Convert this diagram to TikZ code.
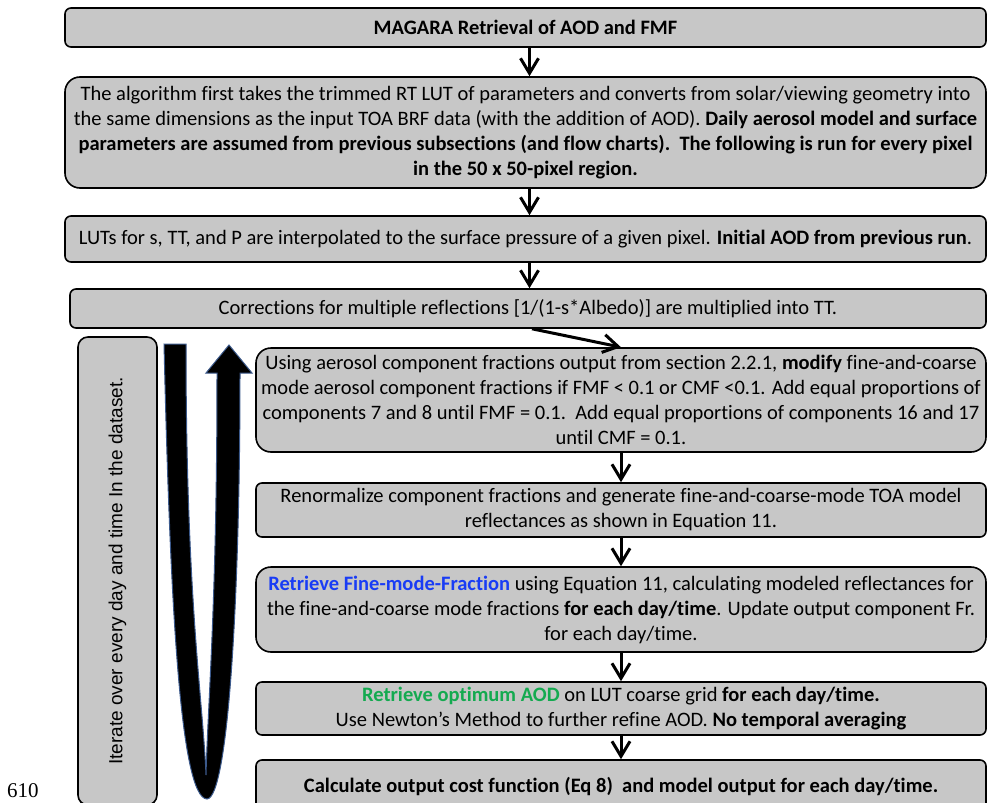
\documentclass[tikz,border=0pt]{standalone}
\usepackage{fontspec}
\setmainfont{Carlito}[Ligatures=NoCommon]
\newfontfamily\arialfont{Liberation Sans}
\newfontfamily\timesfont{Liberation Serif}
\usetikzlibrary{arrows.meta}
\definecolor{boxgray}{RGB}{199,199,199}
\definecolor{fmfblue}{RGB}{25,60,245}
\definecolor{aodgreen}{RGB}{20,170,80}
\definecolor{loopblue}{RGB}{60,90,140}

\begin{document}
\begin{tikzpicture}[x=1pt,y=-1pt,
    stage/.style={draw, fill=boxgray, line width=1.6pt, rounded corners=6pt, align=center, inner sep=0pt, font=\fontsize{20.5}{25}\selectfont},
    stagebig/.style={stage, rounded corners=15pt},
    flow/.style={line width=3pt, -{Straight Barb[length=15pt,width=18pt]}}]
            \useasboundingbox (0,0) rectangle (988,803);
            % main column
            \node[stage, minimum width=921pt, minimum height=39pt] at (525.5,27.5) (title) {\textbf{MAGARA Retrieval of AOD and FMF}};
            \node[stagebig, minimum width=921pt, minimum height=111pt] at (525.5,132.5) (alg) {The algorithm first takes the trimmed RT LUT of parameters and converts from solar/viewing geometry into\\
            the same dimensions as the input TOA BRF data (with the addition of AOD). \textbf{Daily aerosol model and surface}\\
            \textbf{parameters are assumed from previous subsections (and flow charts).\ \ The following is run for every pixel}\\
            \textbf{in the 50 x 50-pixel region.}};
            \node[stage, minimum width=921pt, minimum height=46pt] at (525.5,239) (lut) {LUTs for s, TT, and P are interpolated to the surface pressure of a given pixel. \textbf{Initial AOD from previous run}.};
            \node[stage, minimum width=916pt, minimum height=39pt] at (528,308.5) (corr) {Corrections for multiple reflections [1/(1-s*Albedo)] are multiplied into TT.};
            % per day/time loop
            \node[stagebig, minimum width=730pt, minimum height=104pt] at (621,400) (fix) {Using aerosol component fractions output from section 2.2.1, \textbf{modify} fine-and-coarse\\
            mode aerosol component fractions if FMF < 0.1 or CMF <0.1. Add equal proportions of\\
            components 7 and 8 until FMF = 0.1.\ \ Add equal proportions of components 16 and 17\\
            until CMF = 0.1.};
            \node[stage, minimum width=730pt, minimum height=54pt] at (621,510) (renorm) {Renormalize component fractions and generate fine-and-coarse-mode TOA model\\
            reflectances as shown in Equation 11.};
            \node[stagebig, minimum width=730pt, minimum height=85pt] at (621,609.5) (fmf) {\textbf{\color{fmfblue}Retrieve Fine-mode-Fraction} using Equation 11, calculating modeled reflectances for\\
            the fine-and-coarse mode fractions \textbf{for each day/time}. Update output component Fr.\\
            for each day/time.};
            \node[stage, minimum width=730pt, minimum height=53pt] at (621,708.5) (aod) {\textbf{\color{aodgreen}Retrieve optimum AOD} on LUT coarse grid \textbf{for each day/time.}\\
            Use Newton’s Method to further refine AOD. \textbf{No temporal averaging}};
            \node[stage, minimum width=730pt, minimum height=52pt] at (621,786) (cost) {\textbf{Calculate output cost function (Eq 8)\ \ and model output for each day/time.}};
            \node[stage, rounded corners=10pt, minimum width=79pt, minimum height=468pt] at (117.5,571) (iter) {};
            \node[rotate=90, font=\arialfont\fontsize{19}{22}\selectfont] at (iter.center) (itertext) {Iterate over every day and time In the dataset.};
            \node[font=\timesfont\fontsize{21}{22}\selectfont, anchor=base west, inner sep=0pt] at (7,797) (ln) {610};
            % connectors
            \foreach \a/\b in {title/alg, alg/lut, lut/corr}
              \draw[flow] ([xshift=4pt]\a.south) -- ([xshift=4pt]\a.south |- \b.north);
            \draw[flow] ([xshift=4pt]corr.south) -- (fix.north);
            \foreach \a/\b in {fix/renorm, renorm/fmf, fmf/aod, aod/cost}
              \draw[flow] (\a) -- (\b);
            % loop-back arrow
            \draw[fill=black, draw=loopblue, line width=1pt] (164,344) .. controls (170,600) and (180,798) .. (207,799)
            .. controls (228,798) and (240,600) .. (240,373) -- (252,373) -- (229,345) -- (206,373) -- (217,373)
            .. controls (217,600) and (208,700) .. (206,775) .. controls (203,700) and (186,600) .. (186,344) -- cycle;
        \end{tikzpicture}
\end{document}
